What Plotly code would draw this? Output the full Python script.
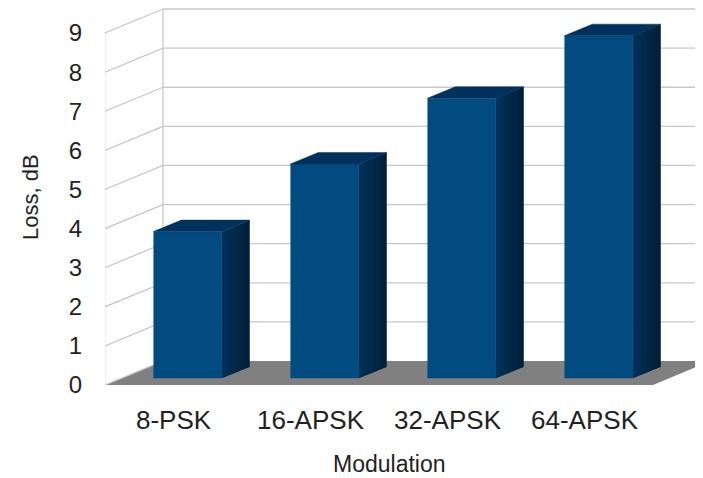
import plotly.graph_objects as go

# ---- data ----
categories = ["8-PSK", "16-APSK", "32-APSK", "64-APSK"]
loss_db = [3.75, 5.48, 7.16, 8.76]
y_ticks = [0, 1, 2, 3, 4, 5, 6, 7, 8, 9]
x_title = "Modulation"
y_title = "Loss, dB"

# ---- pseudo-3D geometry (data units) ----
PX_X = 137.0          # pixels per category
PX_Y = 39.11          # pixels per dB
DX = 58 / PX_X        # full depth offset (x)
DY = 24 / PX_Y        # full depth offset (y)
D0, D1 = 0.28, 0.76   # bar depth range (fraction of wall depth)
BAR_L, BAR_R = 0.235, 0.735
YMAX = max(y_ticks)

# page body has an 8px margin: figure is drawn at (8, 8) in the window
OFF = 8
W, H = 703 - OFF, 478 - OFF
ML, MR, MT, MB = 105 - OFF, 0, 0, H - (385 - OFF)
PW, PH = W - ML - MR, H - MT - MB
x_range = [0, PW / PX_X]
y_range = [0, PH / PX_Y]

FRONT = "#024b80"
TOP = "#00315c"
SIDE_FRONT = (0, 50, 90)
SIDE_BACK = (0, 30, 55)
FLOOR = "#808080"
GRID = "#c8c8c8"
TXT = "#222222"

n = len(categories)
shapes = []
# floor
shapes.append(dict(type="path", xref="x", yref="y", layer="below",
                   path=f"M0,0 L{n},0 L{n + DX},{DY} L{DX},{DY} Z",
                   fillcolor=FLOOR, line=dict(width=0)))
# left wall edge
shapes.append(dict(type="line", xref="x", yref="y", layer="below",
                   x0=0, y0=0, x1=0, y1=YMAX, line=dict(color="#e2e2e2", width=1)))
# gridlines on left wall
for v in y_ticks:
    shapes.append(dict(type="line", xref="x", yref="y", layer="below",
                       x0=0, y0=v, x1=DX, y1=v + DY, line=dict(color=GRID, width=1.3)))
# gridlines on back wall
for v in y_ticks[1:]:
    shapes.append(dict(type="line", xref="x", yref="y", layer="below",
                       x0=DX, y0=v + DY, x1=n + DX, y1=v + DY, line=dict(color=GRID, width=1.3)))
# back wall left edge
shapes.append(dict(type="line", xref="x", yref="y", layer="below",
                   x0=DX, y0=DY, x1=DX, y1=YMAX + DY, line=dict(color=GRID, width=1.3)))

fig = go.Figure()

# bar front faces
fig.add_trace(go.Bar(
    x=[i + (BAR_L + BAR_R) / 2 + D0 * DX for i in range(n)],
    y=loss_db, base=[D0 * DY] * n, width=BAR_R - BAR_L,
    marker=dict(color=FRONT, line=dict(width=0)), hoverinfo="skip"))

# bar side faces (gradient strips) and tops
NS = 12
EPS = (D1 - D0) / NS * 0.6
for i, v in enumerate(loss_db):
    xl = i + BAR_L
    xr = i + BAR_R
    for s in range(NS):
        a = D0 + (D1 - D0) * s / NS
        b = min(D1, D0 + (D1 - D0) * (s + 1) / NS + EPS)
        t = (s + 0.5) / NS
        c = tuple(int(round(SIDE_FRONT[k] + (SIDE_BACK[k] - SIDE_FRONT[k]) * t)) for k in range(3))
        col = "rgb(%d,%d,%d)" % c
        fig.add_trace(go.Scatter(
            x=[xr + a * DX, xr + b * DX, xr + b * DX, xr + a * DX, xr + a * DX],
            y=[a * DY, b * DY, v + b * DY, v + a * DY, a * DY],
            fill="toself", fillcolor=col, mode="lines", line=dict(width=0),
            hoverinfo="skip"))
    fig.add_trace(go.Scatter(
        x=[xl + D0 * DX, xr + D0 * DX, xr + D1 * DX, xl + D1 * DX, xl + D0 * DX],
        y=[v + D0 * DY, v + D0 * DY, v + D1 * DY, v + D1 * DY, v + D0 * DY],
        fill="toself", fillcolor=TOP, mode="lines", line=dict(width=0.5, color=TOP),
        hoverinfo="skip"))

fig.update_layout(
    width=W, height=H,
    margin=dict(l=ML, r=MR, t=MT, b=MB, pad=0),
    paper_bgcolor="white", plot_bgcolor="white",
    showlegend=False, hovermode=False,
    font=dict(family="Liberation Sans, Arial, sans-serif", color=TXT),
    shapes=shapes,
    xaxis=dict(range=x_range, tickvals=[i + 0.5 for i in range(n)], ticktext=categories,
               showgrid=False, zeroline=False, showline=False, ticks="",
               tickfont=dict(size=26, color=TXT), ticklabelstandoff=17, fixedrange=True),
    yaxis=dict(range=y_range, tickvals=y_ticks, ticktext=[str(t) for t in y_ticks],
               showgrid=False, zeroline=False, showline=False, ticks="",
               tickfont=dict(size=24, color=TXT), ticklabelstandoff=22, fixedrange=True),
    annotations=[
        dict(text=x_title, x=(389 - OFF - ML) / PW, y=(PH - (464 - OFF)) / PH,
             xref="paper", yref="paper", showarrow=False, font=dict(size=23, color=TXT),
             xanchor="center", yanchor="middle"),
        dict(text=y_title, x=(30 - OFF - ML) / PW, y=(PH - (197 - OFF)) / PH,
             xref="paper", yref="paper", showarrow=False, textangle=-90,
             font=dict(size=22, color=TXT), xanchor="center", yanchor="middle"),
    ],
)

fig.write_html("out.html")
